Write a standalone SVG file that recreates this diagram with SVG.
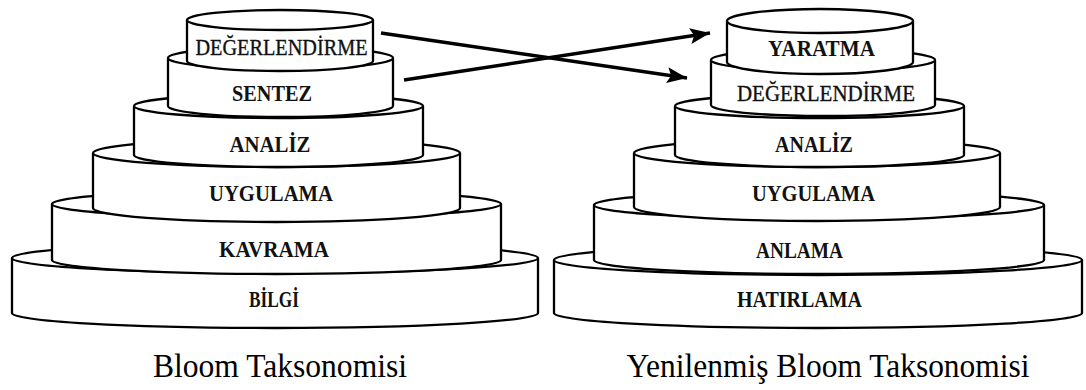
<svg xmlns="http://www.w3.org/2000/svg" width="1086" height="390" viewBox="0 0 1086 390">
  <defs>
    <marker id="head" markerUnits="userSpaceOnUse" markerWidth="22" markerHeight="18" refX="20" refY="8" orient="auto">
      <path d="M0,0 L20,8 L0,16 L4,8 Z" fill="#000"/>
    </marker>
  </defs>
  <style>
    .tier path, .tier ellipse { fill: #fff; stroke: #000; stroke-width: 2.3; }
    .lbl { font-family: "Liberation Serif", "Times New Roman", serif; font-size: 23px; font-weight: bold; fill: #111; text-anchor: middle; }
    .lbl.reg { font-weight: normal; stroke: #111; stroke-width: 0.35; }
    .cap { font-family: "Liberation Serif", "Times New Roman", serif; font-size: 33px; fill: #000; text-anchor: middle; }
    .conn line { stroke: #000; stroke-width: 3.4; marker-end: url(#head); }
  </style>
  <rect width="1086" height="390" fill="#fff"/>

  <!-- left stack: Bloom Taksonomisi, bottom tier first -->
  <g id="bilgi" class="tier">
    <path d="M12,258 L12,313 A263,15 0 0 0 538,313 L538,258"/>
    <ellipse cx="275" cy="258" rx="263" ry="15"/>
    <text class="lbl" x="274" y="307" textLength="50" lengthAdjust="spacingAndGlyphs">BİLGİ</text>
  </g>
  <g id="kavrama" class="tier">
    <path d="M52,204 L52,260 A224.5,14 0 0 0 501,260 L501,204"/>
    <ellipse cx="276.5" cy="204" rx="224.5" ry="14"/>
    <text class="lbl" x="274" y="257" textLength="110" lengthAdjust="spacingAndGlyphs">KAVRAMA</text>
  </g>
  <g id="uygulama" class="tier">
    <path d="M93,153 L93,208 A183.5,14 0 0 0 460,208 L460,153"/>
    <ellipse cx="276.5" cy="153" rx="183.5" ry="14"/>
    <text class="lbl" x="271" y="201" textLength="124" lengthAdjust="spacingAndGlyphs">UYGULAMA</text>
  </g>
  <g id="analiz" class="tier">
    <path d="M134,106 L134,155 A144.5,12 0 0 0 423,155 L423,106"/>
    <ellipse cx="278.5" cy="106" rx="144.5" ry="12"/>
    <text class="lbl" x="270" y="152" textLength="81" lengthAdjust="spacingAndGlyphs">ANALİZ</text>
  </g>
  <g id="sentez" class="tier">
    <path d="M168,58 L168,106 A112.5,11 0 0 0 393,106 L393,58"/>
    <ellipse cx="280.5" cy="58" rx="112.5" ry="11"/>
    <text class="lbl" x="272" y="101" textLength="80" lengthAdjust="spacingAndGlyphs">SENTEZ</text>
  </g>
  <g id="degerlendirme" class="tier">
    <path d="M187,20 L187,61 A93,10 0 0 0 373,61 L373,20"/>
    <ellipse cx="280" cy="20" rx="93" ry="10"/>
    <text class="lbl reg" x="281.5" y="55" textLength="172" lengthAdjust="spacingAndGlyphs">DEĞERLENDİRME</text>
  </g>

  <!-- right stack: Yenilenmiş Bloom Taksonomisi -->
  <g id="hatirlama" class="tier">
    <path d="M554,260 L554,313 A264,15 0 0 0 1082,313 L1082,260"/>
    <ellipse cx="818" cy="260" rx="264" ry="15"/>
    <text class="lbl" x="799.5" y="307" textLength="125" lengthAdjust="spacingAndGlyphs">HATIRLAMA</text>
  </g>
  <g id="anlama" class="tier">
    <path d="M594,205 L594,260 A225,14 0 0 0 1044,260 L1044,205"/>
    <ellipse cx="819" cy="205" rx="225" ry="14"/>
    <text class="lbl" x="799.5" y="258" textLength="87" lengthAdjust="spacingAndGlyphs">ANLAMA</text>
  </g>
  <g id="uygulama-2" class="tier">
    <path d="M634,153 L634,207 A183,14 0 0 0 1000,207 L1000,153"/>
    <ellipse cx="817" cy="153" rx="183" ry="14"/>
    <text class="lbl" x="813.5" y="201" textLength="123" lengthAdjust="spacingAndGlyphs">UYGULAMA</text>
  </g>
  <g id="analiz-2" class="tier">
    <path d="M675,106 L675,155 A144.5,12 0 0 0 964,155 L964,106"/>
    <ellipse cx="819.5" cy="106" rx="144.5" ry="12"/>
    <text class="lbl" x="814" y="152" textLength="78" lengthAdjust="spacingAndGlyphs">ANALİZ</text>
  </g>
  <g id="degerlendirme-2" class="tier">
    <path d="M711,60 L711,105 A112,11 0 0 0 935,105 L935,60"/>
    <ellipse cx="823" cy="60" rx="112" ry="11"/>
    <text class="lbl reg" x="826" y="101" textLength="178" lengthAdjust="spacingAndGlyphs">DEĞERLENDİRME</text>
  </g>
  <g id="yaratma" class="tier">
    <path d="M727,21 L727,62 A93,12 0 0 0 913,62 L913,21"/>
    <ellipse cx="820" cy="21" rx="93" ry="12"/>
    <text class="lbl" x="821.5" y="56" textLength="107" lengthAdjust="spacingAndGlyphs">YARATMA</text>
  </g>

  <!-- crossing arrows between the two stacks -->
  <g id="connectors" class="conn">
    <line x1="381" y1="33" x2="687" y2="78"/>
    <line x1="404" y1="80" x2="710" y2="33"/>
  </g>

  <!-- captions -->
  <g id="captions">
    <text class="cap" x="280" y="377" textLength="254" lengthAdjust="spacingAndGlyphs">Bloom Taksonomisi</text>
    <text class="cap" x="828" y="377" textLength="403" lengthAdjust="spacingAndGlyphs">Yenilenmiş Bloom Taksonomisi</text>
  </g>
</svg>
